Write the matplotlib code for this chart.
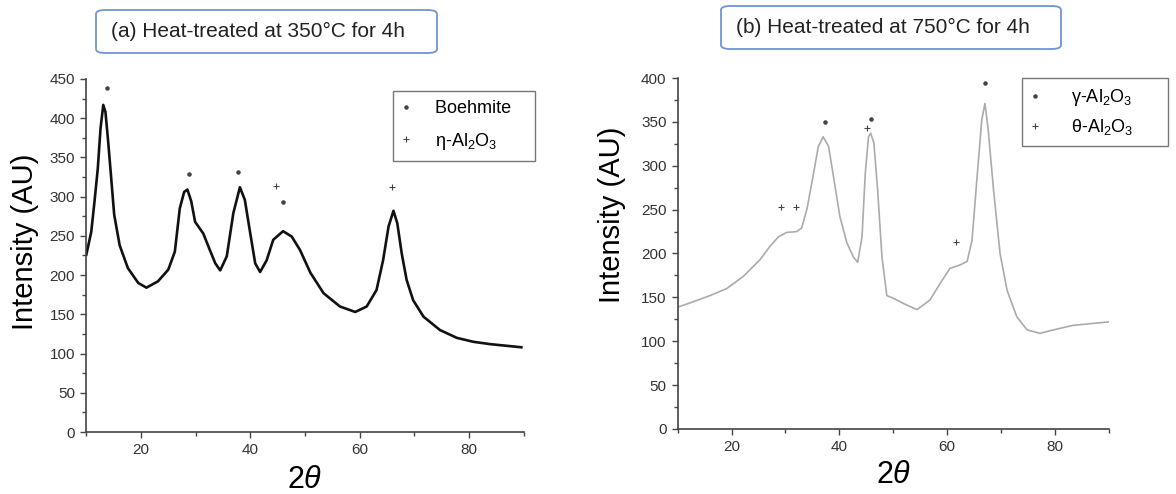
import matplotlib
matplotlib.use("Agg")
import matplotlib.pyplot as plt
from matplotlib.lines import Line2D
from matplotlib.patches import FancyBboxPatch
from matplotlib.ticker import MultipleLocator

plt.rcParams['font.family'] = ['Liberation Sans', 'DejaVu Sans']
plt.rcParams['mathtext.fontset'] = 'custom'
plt.rcParams['mathtext.rm'] = 'Liberation Sans'
plt.rcParams['mathtext.it'] = 'Liberation Sans:italic'

# (a) heat-treated at 350 C
x_a = [10.0, 10.9, 11.5, 12.1, 12.6, 13.1, 13.5, 14.0, 14.5, 15.1, 16.1, 17.6, 19.5,
       21.0, 23.1, 25.0, 26.2, 27.1, 27.9, 28.5, 29.2, 29.9, 30.8, 31.4, 32.6, 33.6,
       34.5, 35.7, 36.9, 38.1, 39.0, 40.0, 40.9, 41.8, 43.0, 44.2, 46.0, 47.6, 49.1,
       51.0, 53.4, 56.4, 59.2, 61.3, 63.1, 64.3, 65.3, 66.2, 66.9, 67.7, 68.6, 69.8,
       71.7, 74.7, 77.8, 80.8, 83.9, 89.6]
y_a = [226, 255, 294, 336, 387, 417, 408, 370, 328, 277, 238, 209, 190,
       184, 192, 207, 230, 285, 306, 309, 294, 268, 259, 253, 232, 215,
       206, 224, 279, 312, 296, 253, 215, 204, 219, 245, 256, 249, 232,
       203, 177, 160, 153, 160, 181, 219, 262, 282, 266, 228, 194, 168,
       147, 130, 120, 115, 112, 108]
boehmite_x = [13.8, 28.8, 37.8, 46.0]
boehmite_y = [439, 329, 331, 293]
eta_x = [44.7, 65.9]
eta_y = [314, 312]

# (b) heat-treated at 750 C
x_b = [10.1, 12.9, 16.0, 19.1, 22.2, 25.3, 27.1, 28.7, 30.2, 32.1, 33.0, 34.0, 35.2,
       36.1, 37.0, 38.0, 38.9, 40.1, 41.4, 42.6, 43.4, 44.2, 44.8, 45.4, 45.8, 46.4,
       47.1, 47.9, 48.8, 50.0, 51.9, 54.4, 56.8, 58.7, 60.5, 62.4, 63.7, 64.6, 65.5,
       66.4, 67.0, 67.6, 68.6, 69.8, 71.1, 72.9, 74.8, 77.2, 79.1, 83.2, 86.5, 89.9]
y_b = [139, 145, 152, 160, 174, 193, 208, 219, 224, 225, 229, 251, 291,
       322, 333, 322, 288, 242, 212, 196, 190, 219, 291, 333, 337, 326,
       272, 196, 152, 149, 143, 136, 147, 166, 183, 187, 191, 215, 284,
       352, 371, 341, 272, 200, 158, 128, 113, 109, 112, 118, 120, 122]
gamma_x = [37.3, 45.8, 67.0]
gamma_y = [350, 353, 394]
theta_x = [29.1, 32.0, 45.1, 61.7]
theta_y = [253, 253, 343, 213]

fig = plt.figure(figsize=(11.76, 4.94), dpi=100)
ax1 = fig.add_axes([0.0734, 0.1255, 0.3718, 0.7146])
ax2 = fig.add_axes([0.5762, 0.1316, 0.3668, 0.7105])

ax1.plot(x_a, y_a, color='#111111', lw=1.9)
ax1.plot(boehmite_x, boehmite_y, ls='', marker='.', ms=4.5, color='#444444')
ax1.plot(eta_x, eta_y, ls='', marker='+', ms=5, mew=0.8, color='#444444')
ax1.set_ylim(0, 450)

ax2.plot(x_b, y_b, color='#ababab', lw=1.2)
ax2.plot(gamma_x, gamma_y, ls='', marker='.', ms=4.5, color='#444444')
ax2.plot(theta_x, theta_y, ls='', marker='+', ms=5, mew=0.8, color='#444444')
ax2.set_ylim(0, 400)

for ax in (ax1, ax2):
    ax.set_xlim(10, 90)
    ax.spines['top'].set_visible(False)
    ax.spines['right'].set_visible(False)
    for s in ('left', 'bottom'):
        ax.spines[s].set_color('#444444')
        ax.spines[s].set_linewidth(1.2)
    ax.xaxis.set_major_locator(MultipleLocator(20))
    ax.xaxis.set_minor_locator(MultipleLocator(10))
    ax.yaxis.set_major_locator(MultipleLocator(50))
    ax.yaxis.set_minor_locator(MultipleLocator(25))
    ax.tick_params(which='both', direction='out', colors='#444444', labelcolor='#333333',
                   labelsize=11, width=1.0)
    ax.tick_params(which='major', length=4.5)
    ax.tick_params(which='minor', length=3)

ax1.set_ylabel('Intensity (AU)', fontsize=21)
ax1.yaxis.set_label_coords(-0.108, 0.54)
ax2.set_ylabel('Intensity (AU)', fontsize=21)
ax2.yaxis.set_label_coords(-0.12, 0.61)
ax1.set_xlabel(r'$2\theta$', fontsize=22, labelpad=6)
ax2.set_xlabel(r'$2\theta$', fontsize=22, labelpad=4.5)

h = [Line2D([], [], ls='', marker='.', ms=4.5, color='#444444'),
     Line2D([], [], ls='', marker='+', ms=5, mew=0.8, color='#444444')]
# trailing spaces keep the wide right margin of the original legend boxes
leg1 = ax1.legend(h, ['Boehmite   ', 'η-Al$_2$O$_3$   '], loc='upper left',
                  bbox_to_anchor=(0.701, 0.966), borderaxespad=0, fontsize=13,
                  frameon=True, fancybox=False, edgecolor='#555555', handlelength=0.5,
                  handletextpad=1.35, labelspacing=0.75, borderpad=0.5)
leg1.get_frame().set_linewidth(1.0)
leg2 = ax2.legend(h, ['γ-Al$_2$O$_3$      ', 'θ-Al$_2$O$_3$      '], loc='upper left',
                  bbox_to_anchor=(0.798, 1.0), borderaxespad=0, fontsize=13,
                  frameon=True, fancybox=False, edgecolor='#555555', handlelength=0.5,
                  handletextpad=1.7, labelspacing=0.5, borderpad=0.5)
leg2.get_frame().set_linewidth(1.0)

# title boxes above the panels (pixel positions from the figure top-left)
titles = [(96, 10, 341, 43, '(a) Heat-treated at 350°C for 4h'),
          (721, 6, 340, 43, '(b) Heat-treated at 750°C for 4h')]
for x0, y0, w, hgt, txt in titles:
    box = FancyBboxPatch((x0 / 1176, 1 - (y0 + hgt) / 494), w / 1176, hgt / 494,
                         boxstyle='round,pad=0,rounding_size=0.008',
                         transform=fig.transFigure, facecolor='white',
                         edgecolor='#7094d4', lw=1.3)
    fig.patches.append(box)
    fig.text((x0 + 15) / 1176, 1 - (y0 + hgt / 2) / 494, txt, fontsize=15,
             ha='left', va='center', color='#222222')

fig.savefig('out.png', dpi=100)
